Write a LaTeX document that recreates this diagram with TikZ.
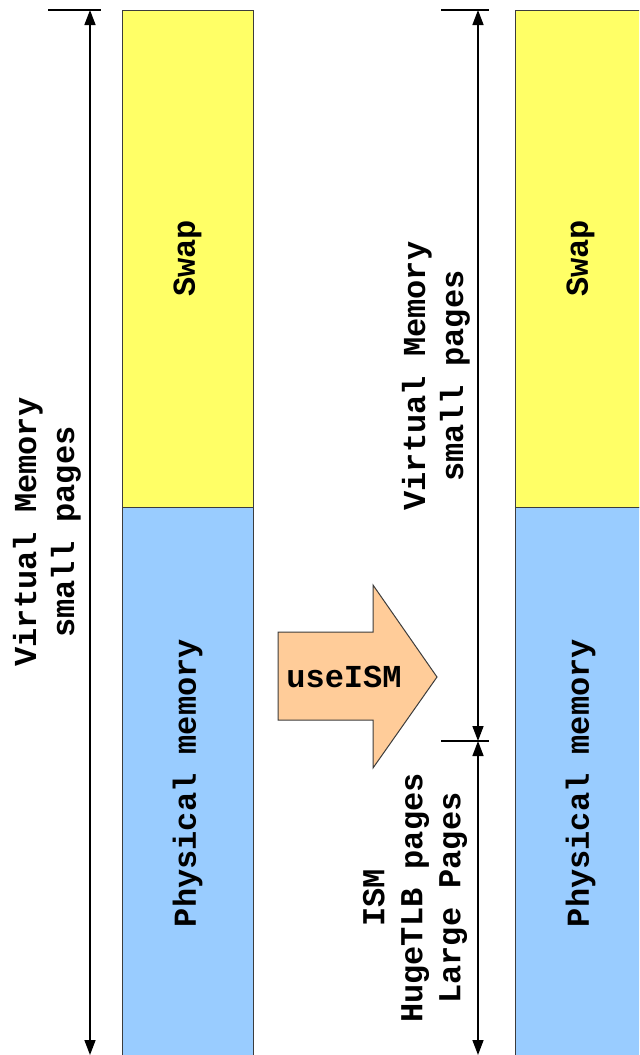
\documentclass[tikz,border=0pt]{standalone}
\usepackage{fontspec}
\setmonofont{Liberation Mono}
\usetikzlibrary{arrows.meta,positioning}
\definecolor{swapyellow}{RGB}{255,255,102}
\definecolor{physblue}{RGB}{153,204,255}
\definecolor{ismpeach}{RGB}{255,204,153}
\definecolor{edgegray}{RGB}{60,60,60}
\begin{document}
\begin{tikzpicture}[x=0.5pt,y=-0.5pt,>={Triangle[length=7.5pt,width=5.5pt]},
    font=\ttfamily\bfseries\fontsize{16}{19}\selectfont,
    colbox/.style={draw=edgegray,line width=0.5pt,inner sep=0pt,minimum width=65.5pt},
    memtext/.style={rotate=90,align=center,inner sep=0pt},
    dim/.style={line width=0.75pt}]
  \useasboundingbox (0,0) rectangle (639,1055);
  \begin{scope}
    \clip (0,0) rectangle (639,1055);
    % left column
    \node[colbox,fill=swapyellow,minimum height=248.5pt] (swapL) at (187.5,258.5) {};
    \node[colbox,fill=physblue,minimum height=276pt] (physL) at (187.5,783) {};
    \node[memtext] at (swapL) {Swap};
    \node[memtext] at (physL) {Physical memory};
    % right column
    \node[colbox,fill=swapyellow,minimum height=248.5pt] (swapR) at (580.5,258.5) {};
    \node[colbox,fill=physblue,minimum height=276pt] (physR) at (580.5,783) {};
    \node[memtext] at (swapR) {Swap};
    \node[memtext] at (physR) {Physical memory};
    % dimension arrows
    \coordinate (topL) at (90,10);
    \coordinate (botL) at (90,1055);
    \coordinate (topR) at (478,10);
    \coordinate (midR) at (478,741);
    \coordinate (botR) at (478,1055);
    \draw[dim] (48,10) -- (101,10);
    \draw[dim] (441,10) -- (489,10);
    \draw[dim] (441,741) -- (489,741);
    \draw[dim,<->] (topL) -- (botL);
    \draw[dim,<->] (topR) -- (midR);
    \draw[dim,<->] (midR) -- (botR);
  \end{scope}
  \node[memtext] (vmL) at (47,532) {Virtual Memory\\small pages};
  \node[memtext] (vmR) at (436,376) {Virtual Memory\\small pages};
  \node[memtext] (ismR) at (415,898) {ISM\\HugeTLB pages\\Large Pages};
  % transition arrow
  \draw[draw=edgegray,line width=0.5pt,fill=ismpeach]
    (278,632) -- (373,632) -- (373,585) -- (437,677) -- (373,768) -- (373,720) -- (278,720) -- cycle;
  \node (use) at (344,677) {useISM};
\end{tikzpicture}
\end{document}
